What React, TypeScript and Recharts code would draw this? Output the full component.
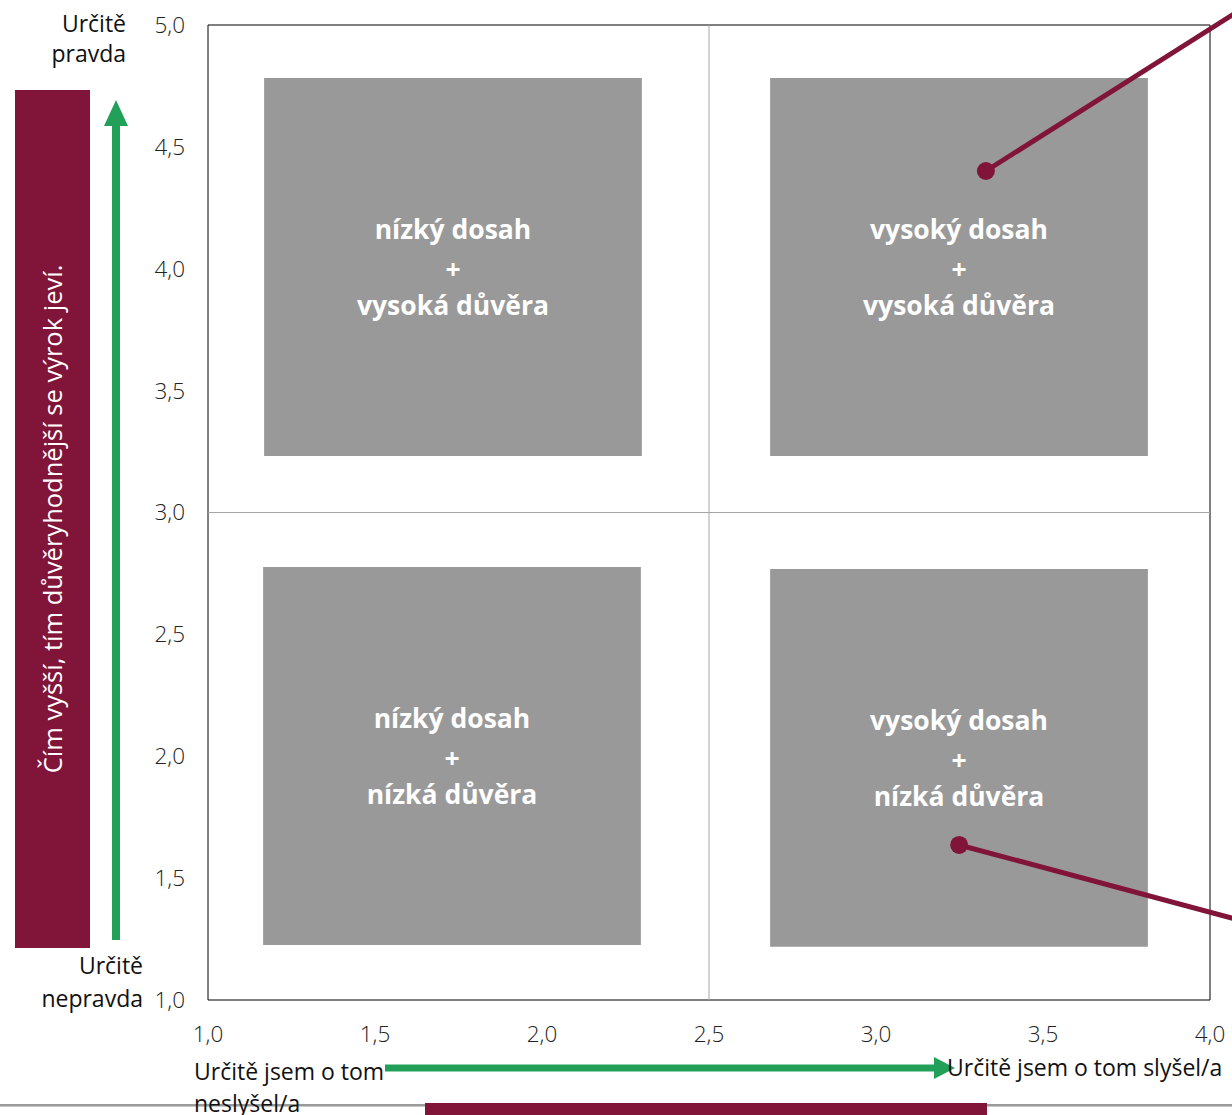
import {
  ComposedChart,
  XAxis,
  YAxis,
  ReferenceArea,
  ReferenceLine,
  Scatter,
} from 'recharts'

const xTicks = [1, 1.5, 2, 2.5, 3, 3.5, 4]
const yTicks = [1, 1.5, 2, 2.5, 3, 3.5, 4, 4.5, 5]

// quadrant boxes (data units)
const quadrants = [
  { x1: 1.168, x2: 2.299, y1: 3.232, y2: 4.783, lines: ['nízký dosah', '+', 'vysoká důvěra'] },
  { x1: 2.683, x2: 3.814, y1: 3.232, y2: 4.783, lines: ['vysoký dosah', '+', 'vysoká důvěra'] },
  { x1: 1.165, x2: 2.296, y1: 1.226, y2: 2.776, lines: ['nízký dosah', '+', 'nízká důvěra'] },
  { x1: 2.683, x2: 3.814, y1: 1.218, y2: 2.768, lines: ['vysoký dosah', '+', 'nízká důvěra'] },
]

// annotation leaders: dot position and where the line runs off the picture
const markerPoints = [
  { x: 3.329, y: 4.401 },
  { x: 3.249, y: 1.636 },
]
const leaderEnds = [
  { x: 4.2, y: 5.157 },
  { x: 4.2, y: 1.287 },
]

const MAROON = '#811439'
const GREEN = '#22a05a'
const FONT = '"Open Sans", sans-serif'

const fmt = (v: number) => v.toFixed(1).replace('.', ',')

const QuadLabel = ({ viewBox, lines }: any) => {
  const cx = viewBox.x + viewBox.width / 2
  const cy = viewBox.y + viewBox.height / 2
  const offs = [-38, 2, 38]
  return (
    <g>
      {lines.map((t: string, i: number) => (
        <text
          key={i}
          x={cx}
          y={cy + offs[i]}
          textAnchor='middle'
          dominantBaseline='central'
          fill='#fff'
          fontFamily={FONT}
          fontWeight={700}
          fontSize={26.5}
        >
          {t}
        </text>
      ))}
    </g>
  )
}

const Decorations = () => (
  <svg
    width={1232}
    height={1115}
    style={{ position: 'absolute', left: 0, top: 0, pointerEvents: 'none' }}
    fontFamily={FONT}
  >
    {/* left banner */}
    <rect x={15} y={90} width={75} height={858} fill={MAROON} />
    <text
      x={52}
      y={519}
      transform='rotate(-90 52 519)'
      textAnchor='middle'
      dominantBaseline='central'
      fill='#fff'
      fontSize={25.5}
    >
      Čím vyšší, tím důvěryhodnější se výrok jeví.
    </text>

    {/* vertical arrow */}
    <line x1={116} y1={940} x2={116} y2={122} stroke={GREEN} strokeWidth={8} />
    <polygon points='104,126 128,126 116,100' fill={GREEN} />

    {/* horizontal arrow */}
    <line x1={385} y1={1068} x2={937} y2={1068} stroke={GREEN} strokeWidth={7} />
    <polygon points='934,1057 934,1079 955,1068' fill={GREEN} />

    {/* bottom rule and banner */}
    <rect x={0} y={1104} width={1232} height={2} fill='#9a9a9a' />
    <rect x={0} y={1106} width={1232} height={1} fill='#c8c8c8' />
    <rect x={425} y={1103} width={562} height={12} fill={MAROON} />

    {/* axis end labels */}
    <g fill='#111' fontSize={23}>
      <text x={126} y={32} textAnchor='end'>Určitě</text>
      <text x={126} y={62} textAnchor='end'>pravda</text>
      <text x={143} y={974} textAnchor='end'>Určitě</text>
      <text x={143} y={1007} textAnchor='end'>nepravda</text>
      <text x={194} y={1080}>Určitě jsem o tom</text>
      <text x={194} y={1112}>neslyšel/a</text>
      <text x={947} y={1076}>Určitě jsem o tom slyšel/a</text>
    </g>
  </svg>
)

const App = () => {
  return (
    <div style={{ position: 'absolute', left: 0, top: 0, width: 1232, height: 1115, background: '#fff' }}>
      <ComposedChart
        width={1232}
        height={1115}
        margin={{ top: 25, right: 22, bottom: 75, left: 148 }}
      >
        <XAxis
          type='number'
          dataKey='x'
          domain={[1, 4]}
          ticks={xTicks}
          tickFormatter={fmt}
          axisLine={false}
          tickLine={false}
          tickSize={0}
          tickMargin={26}
          height={40}
          tick={{ fill: '#222', fontSize: 22.5, fontFamily: FONT, fontWeight: 300 }}
        />
        <YAxis
          type='number'
          dataKey='y'
          domain={[1, 5]}
          ticks={yTicks}
          tickFormatter={fmt}
          axisLine={false}
          tickLine={false}
          tickSize={0}
          tickMargin={23}
          width={60}
          tick={{ fill: '#222', fontSize: 22.5, fontFamily: FONT, fontWeight: 300 }}
        />
        <ReferenceLine x={2.5} stroke='#a6a6a6' strokeWidth={1} />
        <ReferenceLine y={3} stroke='#a6a6a6' strokeWidth={1} />
        {quadrants.map((q, i) => (
          <ReferenceArea
            key={i}
            x1={q.x1}
            x2={q.x2}
            y1={q.y1}
            y2={q.y2}
            fill='#999999'
            fillOpacity={1}
            stroke='none'
            label={(p: any) => <QuadLabel viewBox={p.viewBox} lines={q.lines} />}
          />
        ))}
        <ReferenceArea x1={1} x2={4} y1={1} y2={5} fill='none' stroke='#000' strokeWidth={1} />
        {markerPoints.map((m, i) => (
          <ReferenceLine
            key={'l' + i}
            segment={[m, leaderEnds[i]]}
            stroke={MAROON}
            strokeWidth={5}
            ifOverflow='visible'
          />
        ))}
        <Scatter
          data={markerPoints}
          isAnimationActive={false}
          shape={(p: any) => <circle cx={p.cx} cy={p.cy} r={9} fill={MAROON} />}
        />
      </ComposedChart>
      <Decorations />
    </div>
  )
}

export default App
